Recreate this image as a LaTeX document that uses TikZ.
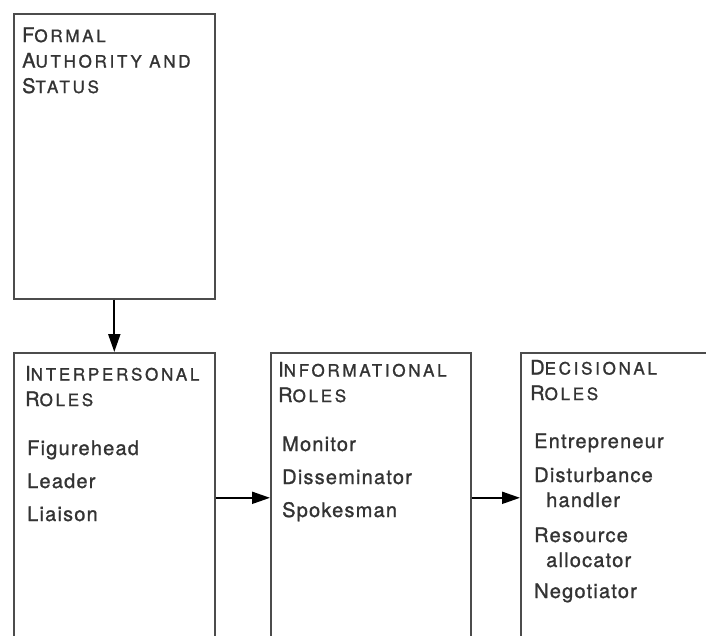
\documentclass[tikz,border=0pt]{standalone}
\usepackage{fontspec}
\setmainfont{TeX Gyre Heros}
\newfontfamily\headfont[LetterSpace=16, FakeBold=1.2]{TeX Gyre Heros}
\newfontfamily\itemfont[LetterSpace=6, FakeBold=1.2]{TeX Gyre Heros}
\usetikzlibrary{arrows.meta}

\newcommand{\capinit}[1]{{\fontsize{20}{20}\selectfont #1}}

\tikzset{
	box/.style={draw=black!70, line width=1.6pt, anchor=north west, inner sep=0pt, minimum height=290pt},
	head/.style={anchor=base west, align=left, inner sep=0pt, text=black!80,
		font=\headfont\fontsize{17}{25.5}\selectfont},
	roles/.style={anchor=base west, align=left, inner sep=0pt, text=black!80,
		font=\itemfont\fontsize{20}{25}\selectfont},
	flow/.style={-{Triangle[length=18pt,width=12pt]}, line width=2pt}
}

\begin{document}
\begin{tikzpicture}[x=1pt, y=-1pt]
	\useasboundingbox (0,0) rectangle (706,635);

	% boxes
	\node[box, minimum width=201pt, minimum height=285pt] (auth) at (13,13) {};
	\node[box, minimum width=201pt] (inter) at (13,352) {};
	\node[box, minimum width=200pt] (info) at (270,352) {};
	\node[box, minimum width=260pt] (decis) at (520,352) {};

	% headings (placed at the baseline of their last line)
	\node[head] (authT) at (22,93) {\capinit{F}ORMAL\\ \capinit{A}UTHORITY AND\\ \capinit{S}TATUS};
	\node[head] (interT) at (25,406) {\capinit{I}NTERPERSONAL\\ \capinit{R}OLES};
	\node[head] (infoT) at (278,402) {\capinit{I}NFORMATIONAL\\ \capinit{R}OLES};
	\node[head] (decisT) at (530,400) {\capinit{D}ECISIONAL\\ \capinit{R}OLES};

	% roles
	\node[roles] (interR) at (27,521) {Figurehead\\[8pt] Leader\\[8pt] Liaison};
	\node[roles] (infoR) at (282,517) {Monitor\\[8pt] Disseminator\\[8pt] Spokesman};
	\node[roles] (decisR) at (534,598) {Entrepreneur\\[9pt] Disturbance\\ \hspace*{12pt}handler\\[10pt]
		Resource\\ \hspace*{12pt}allocator\\[6pt] Negotiator};

	% links
	\draw[flow] (auth) -- (inter);
	\draw[flow] (inter) -- (info);
	\draw[flow] (info) -- (decis);
\end{tikzpicture}
\end{document}
